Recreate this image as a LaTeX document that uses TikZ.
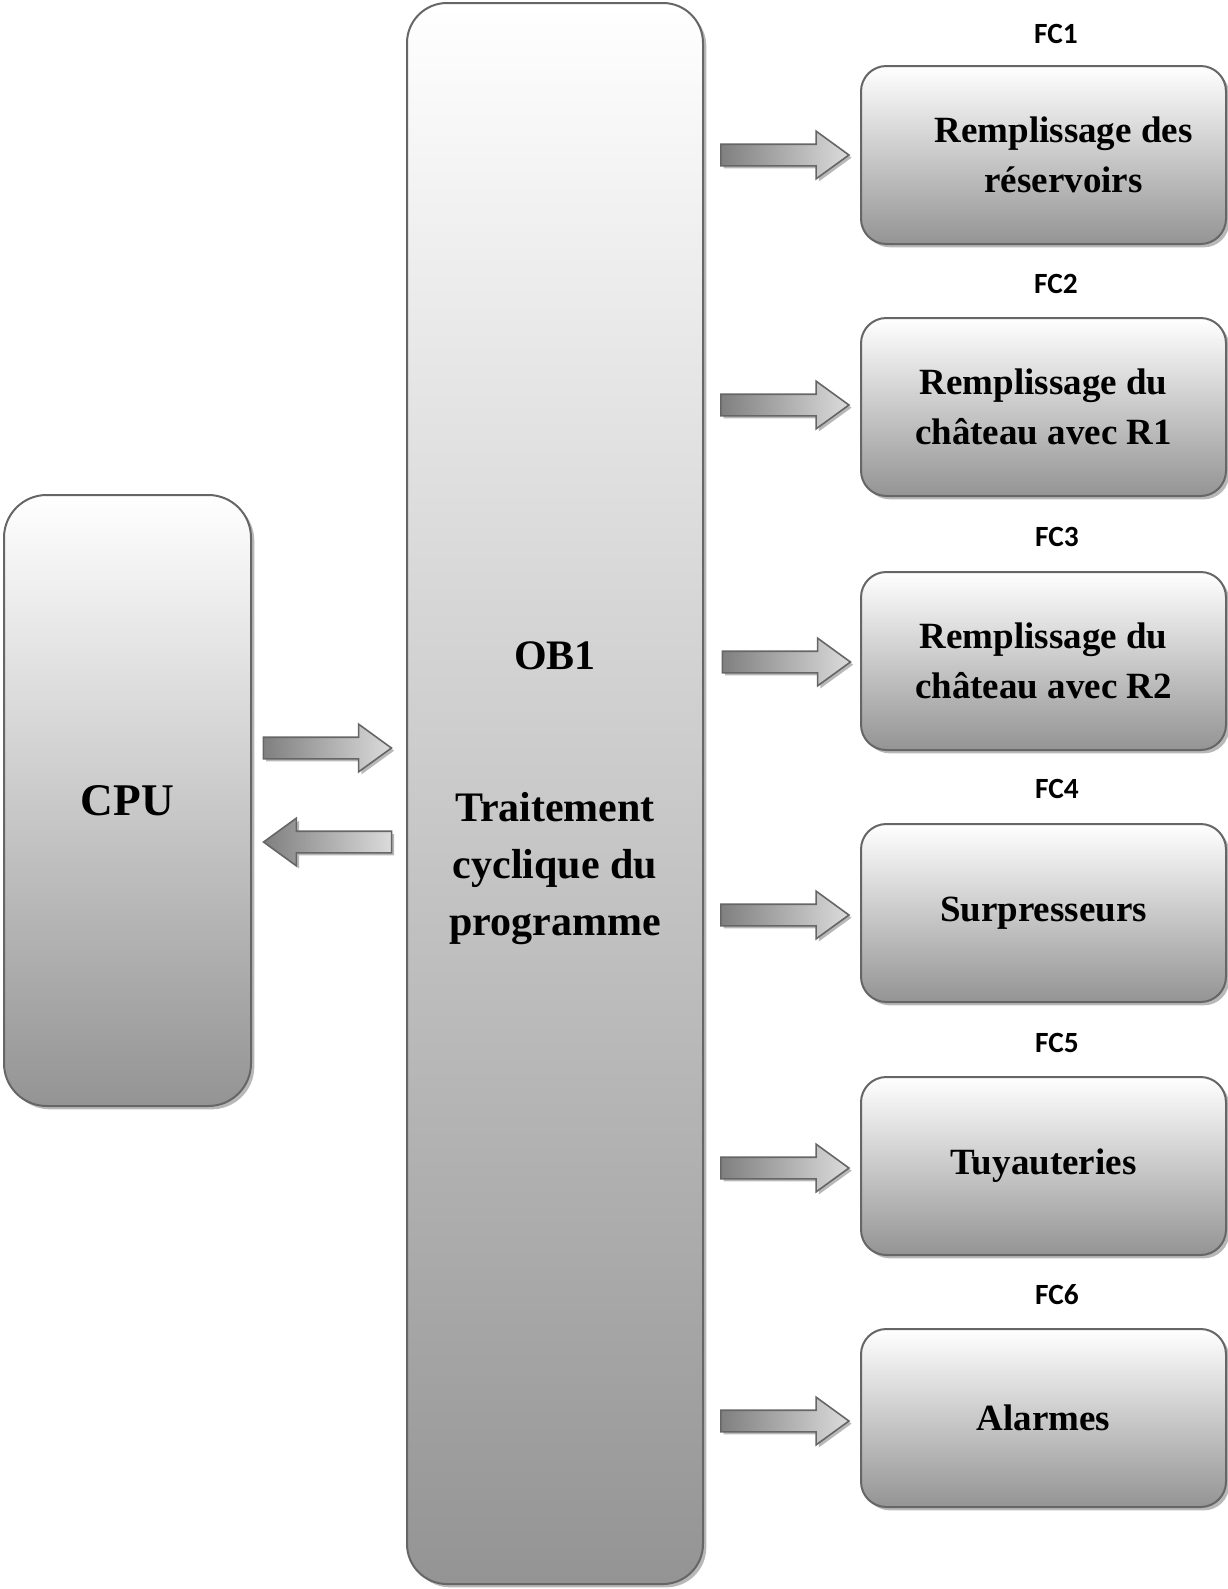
\documentclass[tikz,border=0pt]{standalone}
\usepackage{fontspec}
\setmainfont{Liberation Serif}
\newfontfamily\fcfont{Carlito}
\usetikzlibrary{calc,shapes.arrows,shadows}

\tikzset{
  bloc/.style={draw=black!60, line width=1.5pt, top color=white, bottom color=black!42,
    drop shadow={shadow xshift=2.5pt, shadow yshift=-2.5pt, fill=black!28, opacity=1},
    align=center, inner sep=0pt},
  fcbox/.style={bloc, rounded corners=19pt, minimum width=273.75pt, minimum height=133.5pt,
    font=\fontsize{27.75pt}{38pt}\selectfont\bfseries},
  fclabel/.style={inner sep=0pt, font=\fcfont\fontsize{22pt}{26pt}\selectfont\bfseries},
  fleche/.style={single arrow, draw=black!60, line width=1.2pt, inner xsep=0pt, inner ysep=7.5pt,
    single arrow head extend=9.8pt, single arrow tip angle=72, minimum height=96pt,
    left color=black!50, right color=black!14,
    drop shadow={shadow xshift=2pt, shadow yshift=-2pt, fill=black!28, opacity=1}}
}

\begin{document}
\begin{tikzpicture}[x=0.75pt, y=-0.75pt]
			%%%%% START %%%%%
			\useasboundingbox (0, 0) rectangle (1228, 1589);
			
			\node[bloc, rounded corners=32pt, minimum width=185.25pt, minimum height=458.25pt,
				font=\fontsize{34pt}{40pt}\selectfont\bfseries] (cpu) at (127.5, 800.5) {CPU};
			
			\node[bloc, rounded corners=30pt, minimum width=222pt, minimum height=1185.75pt,
				font=\fontsize{31.5pt}{42.75pt}\selectfont\bfseries] (ob) at (555, 793.5)
				{OB1\\[71pt]Traitement\\cyclique du\\programme};
			
			\node[fleche] (cpuob) at (320, 748) {};
			\node[fleche, shape border rotate=180] (obcpu) at (335, 842) {};
			
			\node[fcbox] (f1) at (1043.5, 155) {\hspace*{30pt}Remplissage des\\\hspace*{30pt}réservoirs};
			\node[fcbox] (f2) at (1043.5, 407) {Remplissage du\\château avec R1};
			\node[fcbox] (f3) at (1043.5, 661) {Remplissage du\\château avec R2};
			\node[fcbox] (f4) at (1043.5, 913) {Surpresseurs};
			\node[fcbox] (f5) at (1043.5, 1166) {Tuyauteries};
			\node[fcbox] (f6) at (1043.5, 1418) {Alarmes};
			
			\node[fclabel] (l1) at (1056, 33.5) {FC1};
			\node[fclabel] (l2) at (1056, 284) {FC2};
			\node[fclabel] (l3) at (1057, 537) {FC3};
			\node[fclabel] (l4) at (1057, 789) {FC4};
			\node[fclabel] (l5) at (1057, 1042.5) {FC5};
			\node[fclabel] (l6) at (1057, 1295) {FC6};
			
			\node[fleche] (a1) at (777.5, 155) {};
			\node[fleche] (a2) at (777.5, 405) {};
			\node[fleche] (a3) at (779, 662) {};
			\node[fleche] (a4) at (777.5, 915) {};
			\node[fleche] (a5) at (777.5, 1168) {};
			\node[fleche] (a6) at (777.5, 1421) {};
			%%%%% END %%%%%
\end{tikzpicture}
\end{document}
